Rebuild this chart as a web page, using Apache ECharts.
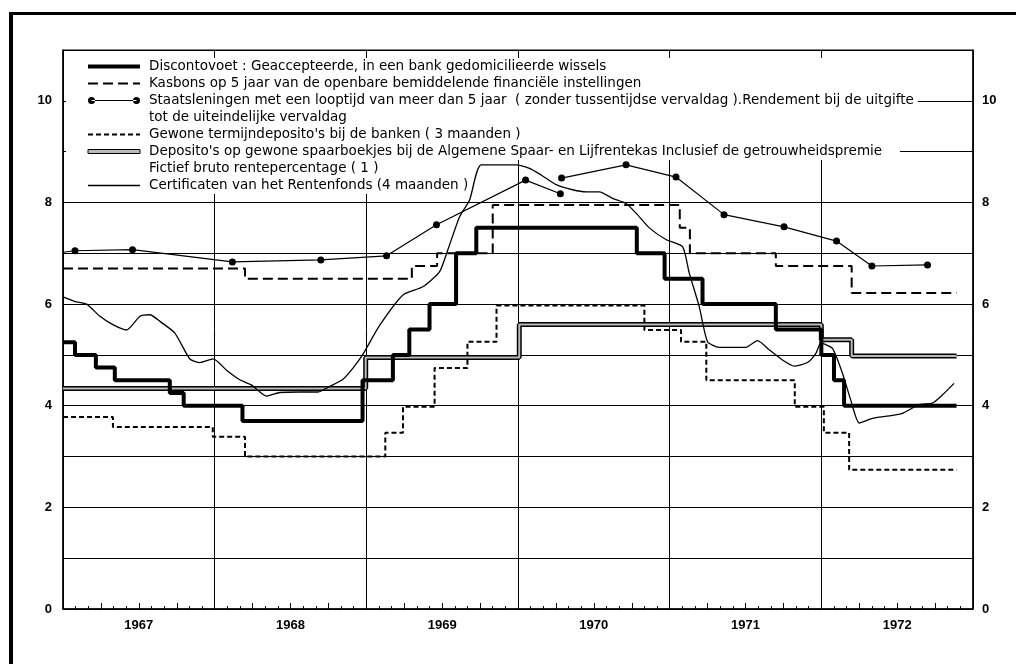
<!DOCTYPE html>
<html><head><meta charset="utf-8">
<script src="https://cdn.jsdelivr.net/npm/echarts@6/dist/echarts.min.js"></script>
<style>html,body{margin:0;padding:0;background:#fff}#c{width:1016px;height:664px}</style>
</head><body><div id="c"></div>
<script>
// x values are months counted from January 1967
const yearLabels = ['1967', '1968', '1969', '1970', '1971', '1972'];

const nameDisconto = 'Discontovoet : Geaccepteerde, in een bank gedomicilieerde wissels';
const nameKasbons = 'Kasbons op 5 jaar van de openbare bemiddelende financiële instellingen';
const nameStaats = 'Staatsleningen met een looptijd van meer dan 5 jaar  ( zonder tussentijdse vervaldag ).Rendement bij de uitgifte';
const nameStaats2 = 'tot de uiteindelijke vervaldag';
const nameGewone = "Gewone termijndeposito's bij de banken ( 3 maanden )";
const nameDeposito = "Deposito's op gewone spaarboekjes bij de Algemene Spaar- en Lijfrentekas Inclusief de getrouwheidspremie";
const nameDeposito2 = 'Fictief bruto rentepercentage ( 1 )';
const nameCert = 'Certificaten van het Rentenfonds (4 maanden )';

const discontoMonths = [0, 0.95, 2.6, 4.1, 8.45, 9.55, 14.2, 23.7, 26.1, 27.4, 29.0, 31.1, 32.7, 45.4, 47.6, 50.6, 56.4, 60.0, 61.0, 61.8, 70.7];
const discontoRates  = [5.25, 5.0, 4.75, 4.5, 4.25, 4.0, 3.7, 4.5, 5.0, 5.5, 6.0, 7.0, 7.5, 7.0, 6.5, 6.0, 5.5, 5.0, 4.5, 4.0, 4.0];

const kasbonsMonths = [0, 14.4, 27.6, 29.6, 34.0, 48.8, 49.6, 56.4, 62.4, 70.7];
const kasbonsRates  = [6.7, 6.5, 6.75, 7.0, 7.95, 7.5, 7.0, 6.75, 6.22, 6.22];

const staatsMonths = [0, 0.95, 5.5, 13.4, 20.4, 25.6, 29.55, 36.6, 39.35, 39.4, 39.45, 44.55, 48.5, 52.3, 57.05, 61.2, 64.0, 68.4];
const staatsRates  = [7.02, 7.05, 7.07, 6.83, 6.87, 6.95, 7.56, 8.44, 8.17, null, 8.48, 8.74, 8.5, 7.76, 7.52, 7.24, 6.75, 6.77];

const gewoneMonths = [0, 3.95, 11.85, 14.4, 25.5, 26.9, 29.4, 32.0, 34.3, 46.0, 48.9, 50.9, 57.9, 60.2, 62.2, 70.7];
const gewoneRates  = [3.78, 3.58, 3.39, 3.0, 3.47, 3.98, 4.74, 5.26, 5.97, 5.49, 5.26, 4.5, 3.98, 3.47, 2.74, 2.74];

const depositoMonths = [0, 23.95, 36.1, 60.0, 62.4, 70.7];
const depositoRates  = [4.34, 4.95, 5.6, 5.3, 4.98, 4.98];

const certMonths = [0, 0.95, 1.87, 2.92, 3.98, 5.03, 6.09, 6.87, 7.67, 8.85, 10.04, 10.83, 11.88, 12.94, 13.99, 14.91, 16.1, 17.15, 18.73, 20.18, 21.1, 22.15, 22.94, 23.7, 25.05, 26.9, 28.47, 29.8, 30.45, 31.38, 32.17, 33.09, 35.86, 36.91, 37.83, 39.02, 40.33, 41.39, 42.44, 43.49, 44.55, 45.34, 46.39, 47.71, 49.02, 49.55, 50.34, 51.0, 51.92, 54.03, 54.95, 55.88, 56.93, 57.85, 58.9, 59.57, 59.96, 60.88, 61.67, 62.33, 63.0, 64.04, 65.36, 66.41, 67.73, 68.78, 69.57, 70.5];
const certRates  = [6.14, 6.05, 6.0, 5.76, 5.59, 5.49, 5.76, 5.79, 5.66, 5.43, 4.92, 4.85, 4.92, 4.70, 4.51, 4.41, 4.19, 4.26, 4.27, 4.27, 4.38, 4.52, 4.74, 5.0, 5.58, 6.18, 6.34, 6.64, 7.07, 7.72, 8.05, 8.74, 8.74, 8.67, 8.54, 8.35, 8.25, 8.21, 8.21, 8.08, 7.98, 7.79, 7.5, 7.27, 7.13, 6.61, 5.95, 5.26, 5.15, 5.15, 5.28, 5.10, 4.90, 4.78, 4.85, 5.03, 5.23, 5.13, 4.64, 4.11, 3.66, 3.75, 3.80, 3.85, 4.02, 4.05, 4.21, 4.44];

const pairs = (xs, ys) => xs.map((x, i) => [x, ys[i]]);

const FONT = 'Liberation Sans';
const LEGEND_FONT = 'DejaVu Sans';
const chart = echarts.init(document.getElementById('c'), null, {renderer: 'canvas'});

const staatsData = pairs(staatsMonths, staatsRates).map((p, i) => i === 0 ? {value: p, symbol: 'none'} : p);

const dotIcon = 'path://M0,4a3.5,3.5 0 1,0 7,0a3.5,3.5 0 1,0 -7,0ZM45,4a3.5,3.5 0 1,0 7,0a3.5,3.5 0 1,0 -7,0ZM3.5,3.4H48.5V4.6H3.5Z';
const doubleIcon = 'path://M0,0H52V4H0Z';
const noDot = {color: 'rgba(0,0,0,0)', borderWidth: 0};

chart.setOption({
  animation: false,
  backgroundColor: '#fff',
  color: ['#000'],
  grid: {left: 63, right: 43, top: 50, bottom: 55, show: true, borderColor: '#000', borderWidth: 1},
  graphic: [
    {type: 'rect', z: 1, silent: true, shape: {x: 66, y: 58, width: 834, height: 102}, style: {fill: '#fff'}},
    {type: 'rect', z: 1, silent: true, shape: {x: 66, y: 158, width: 374, height: 36}, style: {fill: '#fff'}},
    {type: 'line', z: 10, silent: true, shape: {x1: 11, y1: 12, x2: 11, y2: 664}, style: {stroke: '#000', lineWidth: 4}},
    {type: 'line', z: 10, silent: true, shape: {x1: 9, y1: 13.5, x2: 1016, y2: 13.5}, style: {stroke: '#000', lineWidth: 3}}
  ],
  legend: {
    orient: 'vertical', left: 86, top: 58, padding: 0, itemGap: 0,
    itemWidth: 52, itemHeight: 8, selectedMode: false,
    textStyle: {fontFamily: LEGEND_FONT, fontSize: 13.5, color: '#000', lineHeight: 17, backgroundColor: '#fff', padding: [0, 4, 0, 4]},
    data: [
      {name: nameDisconto, lineStyle: {width: 4, color: '#000'}, itemStyle: noDot},
      {name: nameKasbons, lineStyle: {width: 2, color: '#000', type: [10, 5]}, itemStyle: noDot},
      {name: nameStaats, icon: dotIcon, itemStyle: {color: '#000', borderWidth: 0}},
      {name: nameStaats2, icon: 'rect', itemStyle: noDot},
      {name: nameGewone, lineStyle: {width: 2, color: '#000', type: [5, 3]}, itemStyle: noDot},
      {name: nameDeposito, icon: doubleIcon, itemStyle: {color: '#bbb', borderColor: '#000', borderWidth: 1}},
      {name: nameDeposito2, icon: 'rect', itemStyle: noDot},
      {name: nameCert, lineStyle: {width: 1.3, color: '#000'}, itemStyle: noDot}
    ]
  },
  xAxis: [
    {
      type: 'value', min: 0, max: 72, interval: 3, position: 'bottom',
      axisLine: {show: true, lineStyle: {color: '#000', width: 1.5}},
      axisTick: {show: true, inside: true, length: 6, lineStyle: {color: '#000'}},
      minorTick: {show: true, splitNumber: 3, length: 3, lineStyle: {color: '#000'}},
      splitLine: {show: false},
      axisLabel: {
        margin: 10, color: '#000', fontFamily: FONT, fontSize: 13, fontWeight: 'bold',
        formatter: v => (v % 12 === 6 ? yearLabels[(v - 6) / 12] : '')
      }
    },
    {
      type: 'category', data: yearLabels, position: 'top', boundaryGap: true,
      axisLine: {show: false}, axisTick: {show: false}, axisLabel: {show: false},
      splitLine: {show: true, interval: 0, lineStyle: {color: '#000', width: 1}}
    }
  ],
  yAxis: [
    {
      type: 'value', min: 0, max: 11, interval: 1, position: 'left',
      axisLine: {show: true, lineStyle: {color: '#000', width: 1.5}},
      axisTick: {show: false},
      splitLine: {show: true, lineStyle: {color: '#000', width: 1}},
      axisLabel: {margin: 11, color: '#000', fontFamily: FONT, fontSize: 13, fontWeight: 'bold',
        formatter: v => (v % 2 === 0 ? String(v) : '')}
    },
    {
      type: 'value', min: 0, max: 11, interval: 1, position: 'right',
      axisLine: {show: true, lineStyle: {color: '#000', width: 1.5}},
      axisTick: {show: false},
      splitLine: {show: false},
      axisLabel: {margin: 9, color: '#000', fontFamily: FONT, fontSize: 13, fontWeight: 'bold',
        formatter: v => (v % 2 === 0 ? String(v) : '')}
    }
  ],
  series: [
    {name: nameGewone, type: 'line', step: 'end', xAxisIndex: 0, yAxisIndex: 0, symbol: 'none', z: 3,
      data: pairs(gewoneMonths, gewoneRates), lineStyle: {color: '#000', width: 2, type: [5, 3]}},
    {name: nameKasbons, type: 'line', step: 'end', xAxisIndex: 0, yAxisIndex: 0, symbol: 'none', z: 3,
      data: pairs(kasbonsMonths, kasbonsRates), lineStyle: {color: '#000', width: 2, type: [10, 5]}},
    {name: nameDeposito, type: 'line', step: 'end', xAxisIndex: 0, yAxisIndex: 0, symbol: 'none', z: 3,
      data: pairs(depositoMonths, depositoRates), lineStyle: {color: '#000', width: 5}},
    {name: 'depositoInner', type: 'line', step: 'end', xAxisIndex: 0, yAxisIndex: 0, symbol: 'none', z: 3, silent: true,
      data: pairs(depositoMonths, depositoRates), lineStyle: {color: '#bbb', width: 2}},
    {name: nameCert, type: 'line', smooth: 0.2, xAxisIndex: 0, yAxisIndex: 0, symbol: 'none', z: 4,
      data: pairs(certMonths, certRates), lineStyle: {color: '#000', width: 1.3}},
    {name: nameStaats, type: 'line', xAxisIndex: 0, yAxisIndex: 0, symbol: 'circle', symbolSize: 7, z: 4,
      connectNulls: false, data: staatsData, lineStyle: {color: '#000', width: 1.2}, itemStyle: {color: '#000'}},
    {name: nameDisconto, type: 'line', step: 'end', xAxisIndex: 0, yAxisIndex: 0, symbol: 'none', z: 5,
      data: pairs(discontoMonths, discontoRates), lineStyle: {color: '#000', width: 4}},
    {name: nameStaats2, type: 'line', data: []},
    {name: nameDeposito2, type: 'line', data: []}
  ]
});
</script>
</body></html>
